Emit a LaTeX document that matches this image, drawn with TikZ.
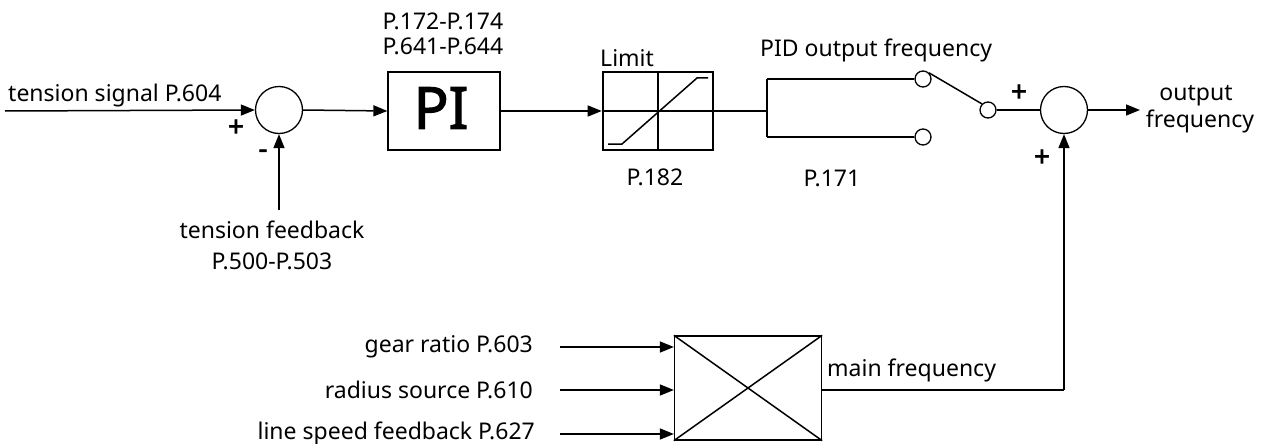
\documentclass[tikz,border=0pt]{standalone}
\usepackage{fontspec}
\setmainfont{Noto Sans}
\newfontfamily\heavyfont[FakeBold=2]{Noto Sans}
\usetikzlibrary{arrows.meta}
\begin{document}
\begin{tikzpicture}[x=1pt,y=-1pt,
  lbl/.style={inner sep=0pt,font=\fontsize{23}{25}\selectfont},
  pm/.style={inner sep=0pt,font=\fontsize{28}{30}\heavyfont},
  wire/.style={line width=1.5pt},
  arr/.style={wire,-{Triangle[length=14pt,width=11pt]}},
  sumc/.style={circle,draw,line width=1.3pt,minimum size=47pt,inner sep=0pt},
  sw/.style={circle,draw,line width=1.3pt,minimum size=16pt,inner sep=0pt},
  blk/.style={draw,line width=1.3pt,inner sep=0pt}]
\useasboundingbox (0,0) rectangle (1269,444);
% nodes
\coordinate (in1) at (5,111);
\node[sumc] (sum1) at (279,110) {};
\coordinate (fb) at (279,210);
\node[blk,minimum width=112pt,minimum height=78pt] (pi) at (444,111) {};
\node[inner sep=0pt,font=\fontsize{58}{58}\heavyfont] (pitxt) at (441,108) {PI};
\node[draw,line width=2.6pt,minimum width=110pt,minimum height=78pt,inner sep=0pt] (lim) at (658,111) {};
\coordinate (br) at (767,111);
\coordinate (brt) at (767,79);
\coordinate (brb) at (767,137);
\node[sw] (s1) at (923,79) {};
\node[sw] (s2) at (923,137) {};
\node[sw] (s3) at (988,110) {};
\node[sumc] (sum2) at (1064,110) {};
\coordinate (out) at (1140,110);
\node[blk,minimum width=147pt,minimum height=104pt] (mb) at (748,388) {};
\coordinate (g1) at (560,347);
\coordinate (g2) at (560,390);
\coordinate (g3) at (560,434);
\coordinate (mf) at (1064,390);
% connectors
\draw[arr] (in1) -- (sum1.west);
\draw[arr] (fb) -- (sum1.south);
\draw[arr] (sum1.east) -- (pi.west);
\draw[arr] (pi.east) -- (lim.west);
\draw[wire] (lim.east) -- (br);
\draw[wire] (brt) -- (brb);
\draw[wire] (brt) -- (s1.west);
\draw[wire] (brb) -- (s2.west);
\draw[wire] (s1.north east) -- (s3.north west);
\draw[wire] (s3.east) -- (sum2.west);
\draw[arr] (sum2.east) -- (out);
\draw[arr] (g1) -- (g1 -| mb.west);
\draw[arr] (g2) -- (g2 -| mb.west);
\draw[arr] (g3) -- (g3 -| mb.west);
\draw[wire] (mb.north west) -- (mb.south east);
\draw[wire] (mb.south west) -- (mb.north east);
\draw[wire] (mb.east |- mf) -- (mf);
\draw[arr] (mf) -- (sum2.south);
% limit inner graphics
\draw[wire] (lim.north) -- (lim.south);
\draw[wire] (lim.west) -- (lim.east);
\draw[wire] (608,144) -- (622,144) -- (697,78) -- (708,78);
% labels
\node[lbl,anchor=west] (t1) at (8,96) {tension signal P.604};
\node[pm] (p1) at (236,128) {+};
\node[pm] (m1) at (263,154) {-};
\node[lbl] (t2) at (272,230) {tension feedback};
\node[lbl] (t3) at (272,261) {P.500-P.503};
\node[lbl] (t4) at (443,21) {P.172-P.174};
\node[lbl] (t5) at (443,46) {P.641-P.644};
\node[lbl,anchor=west] (t6) at (600,58) {Limit};
\node[lbl] (t7) at (655,177) {P.182};
\node[lbl,anchor=west] (t8) at (760,50) {PID output frequency};
\node[lbl] (t9) at (832,178) {P.171};
\node[pm] (p2) at (1019,93) {+};
\node[pm] (p3) at (1042,158) {+};
\node[lbl] (t10) at (1196,96) {output};
\node[lbl] (t11) at (1200,121) {frequency};
\node[lbl,anchor=east] (t12) at (533,347) {gear ratio P.603};
\node[lbl,anchor=east] (t13) at (533,390) {radius source P.610};
\node[lbl,anchor=east] (t14) at (535,433) {line speed feedback P.627};
\node[lbl,anchor=west] (t15) at (827,370) {main frequency};
\end{tikzpicture}
\end{document}
